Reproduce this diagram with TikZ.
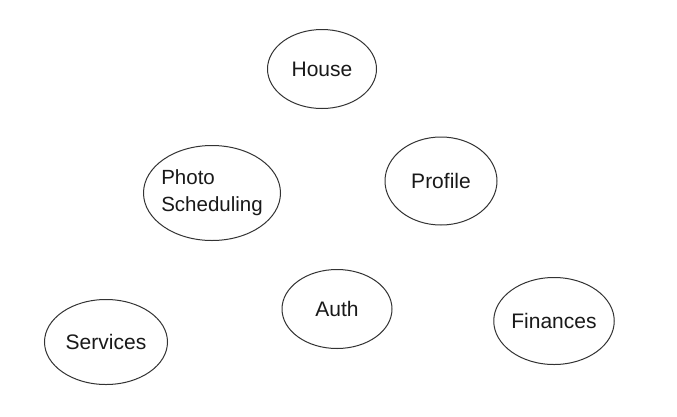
\documentclass[tikz,border=0pt]{standalone}
\usepackage{fontspec}
\setmainfont{Liberation Sans}
\usetikzlibrary{shapes.geometric}
\begin{document}
\begin{tikzpicture}[x=1pt,y=-1pt,
  bubble/.style={ellipse, draw=black!80, line width=1pt, inner sep=0pt,
    font=\fontsize{21}{27}\selectfont, text=black!90}]
\useasboundingbox (0,0) rectangle (677,416);
\fill[white] (0,0) rectangle (677,416);
\node[bubble, minimum width=109pt, minimum height=79pt] (house) at (322,69) {House};
\node[bubble, minimum width=137pt, minimum height=95pt, align=left, inner sep=-14pt, font=\fontsize{20.5}{27}\selectfont] (photo) at (212,193) {Photo\\Scheduling};
\node[bubble, minimum width=112pt, minimum height=88pt] (profile) at (441,181) {Profile};
\node[bubble, minimum width=110pt, minimum height=79pt] (auth) at (337,309) {Auth};
\node[bubble, minimum width=123pt, minimum height=85pt] (services) at (106,342) {Services};
\node[bubble, minimum width=118pt, minimum height=87pt] (finances) at (554,321) {Finances};
\end{tikzpicture}
\end{document}
